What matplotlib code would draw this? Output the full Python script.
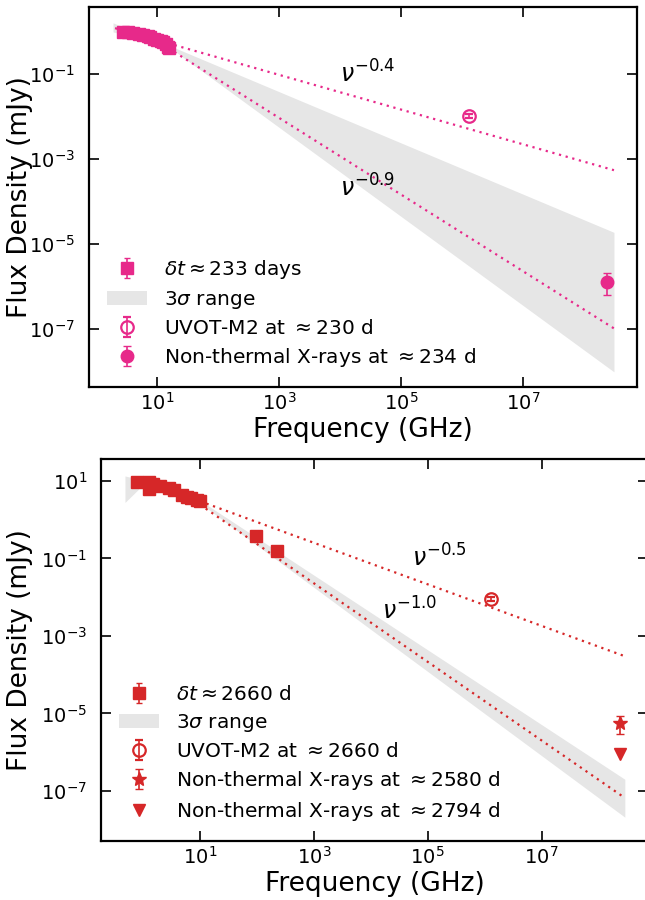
#!/usr/bin/env python3
"""Broadband spectrum at two epochs: radio + UVOT-M2 + non-thermal X-rays,
with power-law extrapolations from the radio and the 3-sigma range of the fit."""
import matplotlib
matplotlib.use("Agg")
import matplotlib.pyplot as plt
from matplotlib.patches import Patch

PINK = "#e7298a"
RED = "#d62728"
BAND = "#e6e6e6"
DOTS = (1, 2.1)

# ── epoch 1: delta t ~ 233 d ───────────────────────────────────────────────
NU_233 = [2.8, 3.4, 4.1, 5.0, 5.9, 7.0, 7.8, 9.0, 10.0, 11.5, 12.6, 14.0, 15.0, 15.5]
F_233 = [0.98, 0.95, 0.91, 0.87, 0.83, 0.78, 0.74, 0.68, 0.63, 0.60, 0.56, 0.50, 0.44, 0.42]
UV_233 = (1.3e6, 0.0103, 0.0012)            # nu, flux, err
XR_233 = (2.4e8, 1.3e-6, 0.67e-6, 0.8e-6)   # nu, flux, err-, err+
BAND_NU_233 = [1.9, 15.8, 3.1e8]
BAND_LO_233 = [0.98, 0.43, 1.0e-8]
BAND_HI_233 = [1.6, 0.47, 1.9e-5]
PL_SHALLOW_233 = ([2.05, 3.1e8], [1.2, 5.5e-4])     # nu^-0.4
PL_STEEP_233 = ([15.5, 3.1e8], [0.40, 1.05e-7])     # nu^-0.9

# ── epoch 2: delta t ~ 2660 d ──────────────────────────────────────────────
NU_2660 = [0.79, 1.27, 1.27, 1.5, 2.0, 2.9, 3.5, 4.8, 5.9, 7.0, 8.9, 10.0, 95.0, 225.0]
F_2660 = [9.4, 9.4, 6.2, 8.4, 7.4, 6.6, 5.8, 4.4, 3.9, 3.6, 3.2, 3.1, 0.38, 0.155]
UV_2660 = (1.3e6, 0.0089, 0.0010)
XR_2580 = (2.4e8, 5.6e-6, 2.65e-6, 3.1e-6)
XR_2794 = (2.4e8, 9.0e-7)                   # upper limit
BAND_NU_2660 = [0.48, 1.0, 9.0, 2.9e8]
BAND_LO_2660 = [2.8, 8.0, 3.0, 2.1e-8]
BAND_HI_2660 = [13.5, 10.5, 3.5, 2.0e-7]
PL_SHALLOW_2660 = ([10.0, 2.9e8], [3.0, 3.0e-4])    # nu^-0.5
PL_STEEP_2660 = ([10.0, 2.9e8], [2.45, 6.6e-8])     # nu^-1.0

plt.rcParams.update({
    "font.family": "DejaVu Sans",
    "mathtext.fontset": "dejavusans",
    "xtick.labelsize": 14,
    "ytick.labelsize": 14,
    "axes.labelsize": 19,
    "axes.linewidth": 1.6,
})


def style_axes(ax, xlim, ylim, yticks):
    ax.set_xscale("log")
    ax.set_yscale("log")
    ax.set_xlim(*xlim)
    ax.set_ylim(*ylim)
    ax.set_xticks([1e1, 1e3, 1e5, 1e7])
    ax.set_yticks(yticks)
    ax.minorticks_off()
    ax.tick_params(direction="in", top=True, right=True, length=7, width=1.2)
    ax.tick_params(axis="y", pad=10)
    ax.set_xlabel("Frequency (GHz)", labelpad=2)


def legend(ax, handles, labels):
    ax.legend(handles, labels, loc="lower left", frameon=False, fontsize=14.5,
              numpoints=1, labelspacing=0.4, handletextpad=0.8, borderaxespad=0.5)


fig = plt.figure(figsize=(6.45, 9.0), dpi=100)
W, H = 645.0, 900.0

# ── top panel ──────────────────────────────────────────────────────────────
ax = fig.add_axes([89 / W, 1 - 387 / H, 548 / W, 380 / H])
ax.fill_between(BAND_NU_233, BAND_LO_233, BAND_HI_233, color=BAND, lw=0, zorder=0)
ax.plot(*PL_SHALLOW_233, ls=(0, DOTS), color=PINK, lw=1.6, zorder=1)
ax.plot(*PL_STEEP_233, ls=(0, DOTS), color=PINK, lw=1.6, zorder=1)
h1 = ax.errorbar(NU_233, F_233, yerr=[0.05 * f for f in F_233], fmt="s", color=PINK,
                 ms=8.5, capsize=2, elinewidth=1.2, zorder=3)
h2 = ax.errorbar([UV_233[0]], [UV_233[1]], yerr=[UV_233[2]], fmt="o", mfc="none",
                 mec=PINK, mew=1.6, color=PINK, ms=9, capsize=3, elinewidth=1.2, zorder=3)
h3 = ax.errorbar([XR_233[0]], [XR_233[1]], yerr=[[XR_233[2]], [XR_233[3]]], fmt="o",
                 color=PINK, ms=9, capsize=3, elinewidth=1.2, zorder=3)
ax.text(1e4, 10 ** -1.21, r"$\nu^{-0.4}$", fontsize=17)
ax.text(1e4, 10 ** -3.89, r"$\nu^{-0.9}$", fontsize=17)
style_axes(ax, (0.767, 7.4e8), (4.4e-9, 3.77), [1e-1, 1e-3, 1e-5, 1e-7])
ax.set_ylabel("Flux Density (mJy)")
ax.yaxis.set_label_coords(33 / W, 1 - 197 / H, transform=fig.transFigure)
legend(ax, [h1, Patch(facecolor=BAND, edgecolor="none"), h2, h3],
       [r"$\delta t\approx 233$ days", r"3$\sigma$ range",
        r"UVOT-M2 at $\approx 230$ d", r"Non-thermal X-rays at $\approx 234$ d"])

# ── bottom panel ───────────────────────────────────────────────────────────
ax = fig.add_axes([101 / W, 1 - 841 / H, 547 / W, 382 / H])
ax.fill_between(BAND_NU_2660, BAND_LO_2660, BAND_HI_2660, color=BAND, lw=0, zorder=0)
ax.plot(*PL_SHALLOW_2660, ls=(0, DOTS), color=RED, lw=1.6, zorder=1)
ax.plot(*PL_STEEP_2660, ls=(0, DOTS), color=RED, lw=1.6, zorder=1)
g1 = ax.errorbar(NU_2660, F_2660, yerr=[0.05 * f for f in F_2660], fmt="s", color=RED,
                 ms=8.5, capsize=2, elinewidth=1.2, zorder=3)
g2 = ax.errorbar([UV_2660[0]], [UV_2660[1]], yerr=[UV_2660[2]], fmt="o", mfc="none",
                 mec=RED, mew=1.6, color=RED, ms=9, capsize=3, elinewidth=1.2, zorder=3)
g3 = ax.errorbar([XR_2580[0]], [XR_2580[1]], yerr=[[XR_2580[2]], [XR_2580[3]]], fmt="*",
                 color=RED, ms=10, capsize=3, elinewidth=1.2, zorder=3)
g4, = ax.plot([XR_2794[0]], [XR_2794[1]], "v", color=RED, ms=9, zorder=3)
ax.text(10 ** 4.72, 10 ** -1.22, r"$\nu^{-0.5}$", fontsize=17)
ax.text(10 ** 4.19, 10 ** -2.59, r"$\nu^{-1.0}$", fontsize=17)
style_axes(ax, (0.182, 7.4e8), (5.1e-9, 37.0), [1e1, 1e-1, 1e-3, 1e-5, 1e-7])
ax.set_ylabel("Flux Density (mJy)")
ax.yaxis.set_label_coords(33 / W, 1 - 650 / H, transform=fig.transFigure)
legend(ax, [g1, Patch(facecolor=BAND, edgecolor="none"), g2, g3, g4],
       [r"$\delta t\approx 2660$ d", r"3$\sigma$ range", r"UVOT-M2 at $\approx 2660$ d",
        r"Non-thermal X-rays at $\approx 2580$ d", r"Non-thermal X-rays at $\approx 2794$ d"])

fig.savefig("out.png", dpi=100)
